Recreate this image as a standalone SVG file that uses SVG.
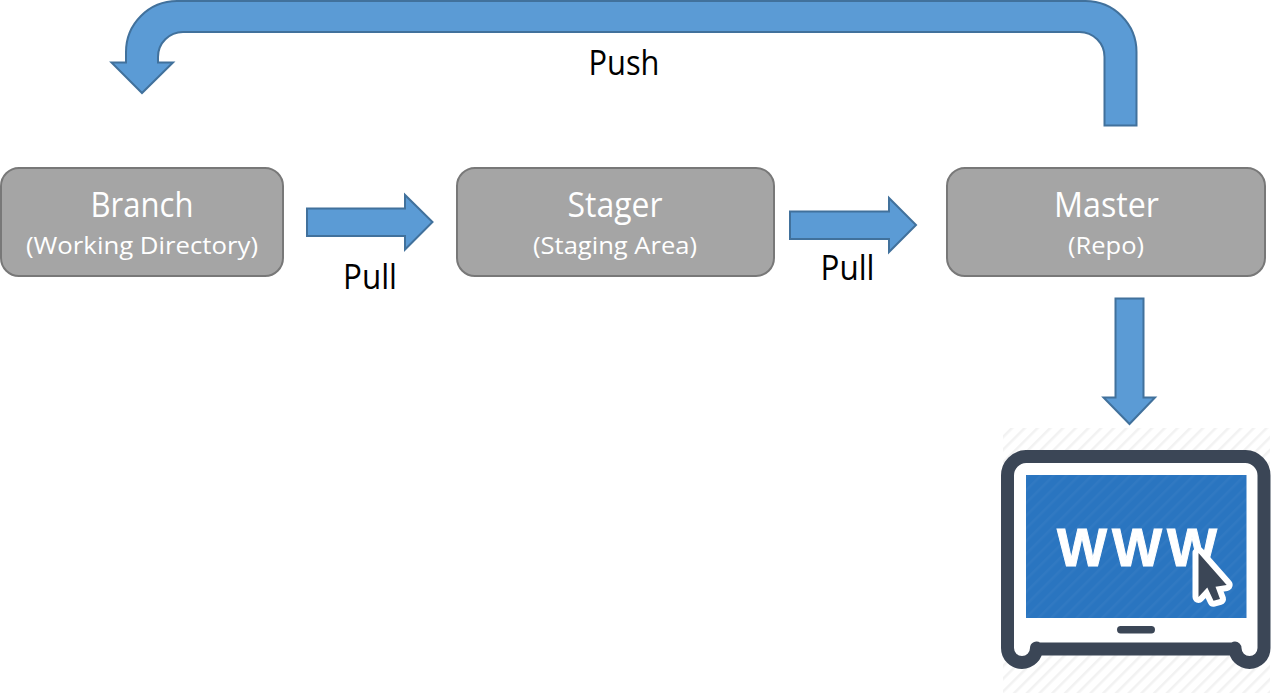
<svg xmlns="http://www.w3.org/2000/svg" width="1271" height="695" viewBox="0 0 1271 695">
<style>
.arrow{fill:#5b9bd5;stroke:#41719c;stroke-width:2;stroke-linejoin:miter}
.box{fill:#a5a5a5;stroke:#787878;stroke-width:2}
.title{font-family:"Open Sans","Noto Sans",sans-serif;font-size:34px;fill:#fff;text-anchor:middle}
.sub{font-family:"Open Sans","Noto Sans",sans-serif;font-size:24px;fill:#fff;text-anchor:middle}
.lab{font-family:"Open Sans","Noto Sans",sans-serif;font-size:34px;fill:#000;text-anchor:middle}
</style>
<defs>
<pattern id="hatch" width="9" height="9" patternUnits="userSpaceOnUse" patternTransform="rotate(45)">
<rect width="9" height="9" fill="#fff"/>
<rect x="0" width="2.500" height="9" fill="#f2f2f2"/>
</pattern>
<pattern id="hatch2" width="9" height="9" patternUnits="userSpaceOnUse" patternTransform="rotate(45)">
<rect x="0" width="2.500" height="9" fill="#fff" fill-opacity="0.03"/>
</pattern>
</defs>
<rect width="1271" height="695" fill="#fff"/>
<g id="connectors">
<path class="arrow" d="M1136.500 125.500V52A51 51 0 0 0 1085.500 1H177A51 51 0 0 0 126 52V62.500H111.500L142 93L173 62.500H158V57A25 25 0 0 1 183 32H1079.500A25 25 0 0 1 1104.500 57V125.500Z"/>
<path class="arrow" d="M307 208.500H405V195L432.500 222L405 249.500V236H307Z"/>
<path class="arrow" d="M790 211.500H889V198L916 225L889 252V239H790Z"/>
<path class="arrow" d="M1115.500 298.500H1143.500V397.500H1155L1129.500 424L1103.500 397.500H1115.500Z"/>
</g>
<g id="branch">
<rect class="box" x="1" y="168" width="282" height="108" rx="18"/>
<text class="title" x="142" y="217" textLength="103" lengthAdjust="spacingAndGlyphs">Branch</text>
<text class="sub" x="142" y="253.500" textLength="232" lengthAdjust="spacingAndGlyphs">(Working Directory)</text>
</g>
<g id="stager">
<rect class="box" x="457" y="168" width="317" height="108" rx="18"/>
<text class="title" x="615" y="217" textLength="95" lengthAdjust="spacingAndGlyphs">Stager</text>
<text class="sub" x="615" y="253.500" textLength="164" lengthAdjust="spacingAndGlyphs">(Staging Area)</text>
</g>
<g id="master">
<rect class="box" x="947" y="168" width="318" height="108" rx="18"/>
<text class="title" x="1106.500" y="217" textLength="105" lengthAdjust="spacingAndGlyphs">Master</text>
<text class="sub" x="1106" y="253.500" textLength="76" lengthAdjust="spacingAndGlyphs">(Repo)</text>
</g>
<g id="labels">
<text class="lab" x="624" y="75" textLength="71" lengthAdjust="spacingAndGlyphs">Push</text>
<text class="lab" x="370" y="288.500" textLength="54" lengthAdjust="spacingAndGlyphs">Pull</text>
<text class="lab" x="847.500" y="279.500" textLength="54" lengthAdjust="spacingAndGlyphs">Pull</text>
</g>
<g id="www-icon">
<rect x="1003" y="428" width="267" height="265" fill="url(#hatch)"/>
<path d="M1026 456.500H1245.500A19 19 0 0 1 1264 475.500V648A14.500 14.500 0 0 1 1235 648Q1234.500 649 1231 649H1041Q1037 649 1036.500 648A14.500 14.500 0 0 1 1007.500 648V475.500A19 19 0 0 1 1026 456.500Z" fill="#fff" stroke="#3b4656" stroke-width="13" stroke-linejoin="round"/>
<rect x="1026" y="475" width="220.500" height="143" fill="#2a75c0"/>
<rect x="1026" y="475" width="220.500" height="143" fill="url(#hatch2)"/>
<rect x="1117" y="626" width="38" height="7.500" rx="3.700" fill="#3b4656"/>
<text x="1057" y="566" font-family="Liberation Sans, Arial, sans-serif" font-weight="700" font-size="53" letter-spacing="5" fill="#fff" stroke="#fff" stroke-width="1">WWW</text>
<path d="M1198.500 553V597L1207.300 587.500L1213.500 600.700L1220 599L1215.500 586.700L1226.700 585Z" fill="#3b4656" stroke="#fff" stroke-width="12" stroke-linejoin="round" paint-order="stroke"/>
</g>
</svg>
